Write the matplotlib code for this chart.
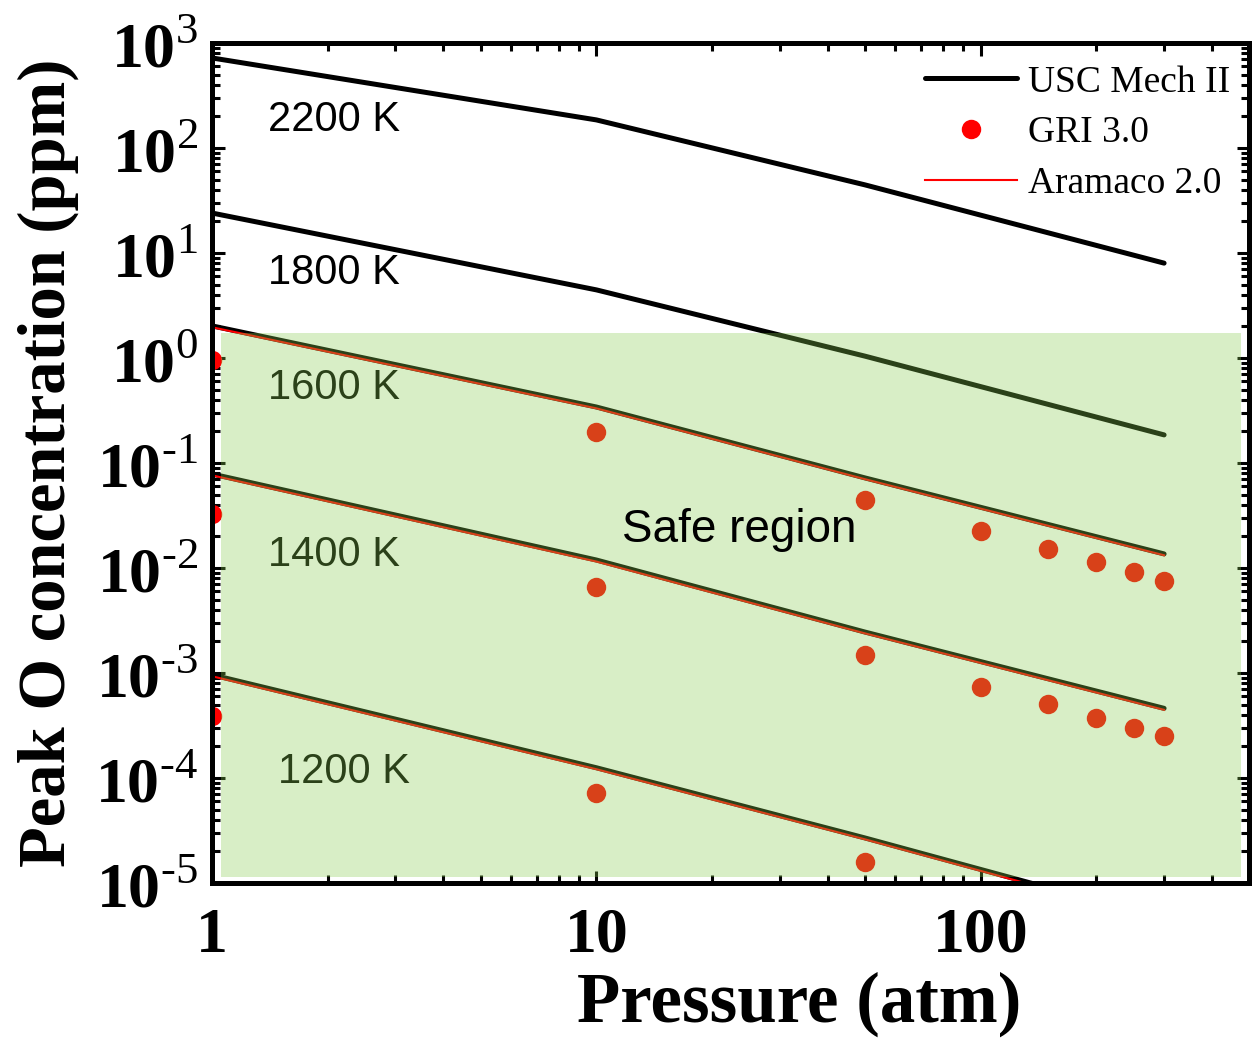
import matplotlib
matplotlib.use('Agg')
from matplotlib import pyplot as plt
from matplotlib.patches import Rectangle
from matplotlib.ticker import LogLocator, NullFormatter
import numpy as np

plt.rcParams['mathtext.fontset'] = 'custom'
plt.rcParams['mathtext.rm'] = 'Liberation Serif'
plt.rcParams['mathtext.bf'] = 'Liberation Serif:bold'

# peak O (ppm) vs pressure (atm)
p_line = [1, 10, 50, 300]
usc = {
    '2200 K': [720, 185, 44.5, 8.0],
    '1800 K': [24, 4.45, 1.04, 0.185],
    '1600 K': [2.02, 0.341, 0.072, 0.0136],
    '1400 K': [0.0785, 0.0119, 0.00245, 4.6e-4],
    '1200 K': [9.6e-4, 1.25e-4, 2.68e-5, 4.5e-6],
}
aramaco = {
    '1600 K': [1.96, 0.331, 0.070, 0.0132],
    '1400 K': [0.0762, 0.0115, 0.00238, 4.45e-4],
    '1200 K': [9.3e-4, 1.21e-4, 2.6e-5, 4.35e-6],
}
p_gri = [1, 10, 50, 100, 150, 200, 250, 300]
gri_1600 = [0.96, 0.197, 0.0445, 0.0225, 0.0152, 0.0114, 0.0092, 0.0075]
gri_1400 = [0.033, 0.0066, 0.00148, 7.4e-4, 5.1e-4, 3.7e-4, 3.0e-4, 2.5e-4]
gri_1200 = [3.9e-4, 7.2e-5, 1.58e-5]

x_ticks = [1, 10, 100]
x_tick_labels = ['1', '10', '100']
y_exps = [-5, -4, -3, -2, -1, 0, 1, 2, 3]
y_tick_labels = [r'$\mathbf{10}^{\text{%d}}$' % e for e in y_exps]

# label text, x, y in axes fraction
t_labels = [('2200 K', 0.054, 0.908), ('1800 K', 0.054, 0.726),
            ('1600 K', 0.054, 0.589), ('1400 K', 0.054, 0.390),
            ('1200 K', 0.064, 0.132)]

fig = plt.figure(figsize=(12.55, 10.38), dpi=100)
ax = fig.add_axes([0.169, 0.1494, 0.8265, 0.8092])

h_usc = h_ara = None
for k, v in usc.items():
    ln, = ax.plot(p_line, v, color='black', lw=3.6, solid_capstyle='round', zorder=2)
    h_usc = h_usc or ln
for k, v in aramaco.items():
    ln, = ax.plot(p_line, v, color='red', lw=1.5, zorder=2.2)
    h_ara = h_ara or ln
h_gri, = ax.plot(p_gri, gri_1600, 'o', color='red', ms=14, mec='none', zorder=2.1)
ax.plot(p_gri, gri_1400, 'o', color='red', ms=14, mec='none', zorder=2.1)
ax.plot(p_gri[:3], gri_1200, 'o', color='red', ms=14, mec='none', zorder=2.1)

ax.set_xscale('log')
ax.set_yscale('log')
ax.set_xlim(1, 500)
ax.set_ylim(1e-5, 1e3)

ax.set_xticks(x_ticks)
ax.set_xticklabels(x_tick_labels, family='Liberation Serif', weight='bold', fontsize=46)
ax.set_yticks([10.0 ** e for e in y_exps])
ax.set_yticklabels(y_tick_labels, fontsize=46)
ax.xaxis.set_minor_locator(LogLocator(base=10, subs=np.arange(2, 10)))
ax.yaxis.set_minor_locator(LogLocator(base=10, subs=np.arange(2, 10), numticks=20))
ax.xaxis.set_minor_formatter(NullFormatter())
ax.yaxis.set_minor_formatter(NullFormatter())
ax.tick_params(which='both', direction='in', top=True, right=True)
ax.tick_params(which='major', length=9, width=2.2)
ax.tick_params(which='minor', length=5.5, width=2.2)
ax.tick_params(axis='x', which='major', pad=18)
ax.tick_params(axis='y', which='major', pad=10)
for s in ax.spines.values():
    s.set_linewidth(3.6)

ax.set_xlabel('Pressure (atm)', family='Liberation Serif', weight='bold', fontsize=51)
ax.set_ylabel('Peak O concentration (ppm)', family='Liberation Serif', weight='bold', fontsize=48)
ax.xaxis.set_label_coords(0.566, -0.105, transform=ax.transAxes)
ax.xaxis.label.set_va('top')
ax.yaxis.set_label_coords(-0.158, 0.5, transform=ax.transAxes)
ax.yaxis.label.set_va('center')

for txt, x, y in t_labels:
    ax.text(x, y, txt, transform=ax.transAxes, family='Liberation Sans', fontsize=30,
            va='center', ha='left', zorder=2.3)

# translucent green band over the low-O region
ax.add_patch(Rectangle((0.0087, 0.007), 0.983, 0.648, transform=ax.transAxes,
                       facecolor=(0.53, 0.8, 0.31), alpha=0.32, edgecolor='none', zorder=3))
ax.text(0.395, 0.42, 'Safe region', transform=ax.transAxes, family='Liberation Sans',
        fontsize=33, va='center', ha='left', zorder=5)

leg = ax.legend([h_usc, h_gri, h_ara], ['USC Mech II', 'GRI 3.0', 'Aramaco 2.0'],
                loc='upper right', bbox_to_anchor=(1.0, 0.996), frameon=False,
                prop={'family': 'Liberation Serif', 'size': 27}, handlelength=2.45,
                handletextpad=0.3, labelspacing=0.43, borderaxespad=0.1)
leg.set_zorder(6)

fig.savefig('out.png', dpi=100)
